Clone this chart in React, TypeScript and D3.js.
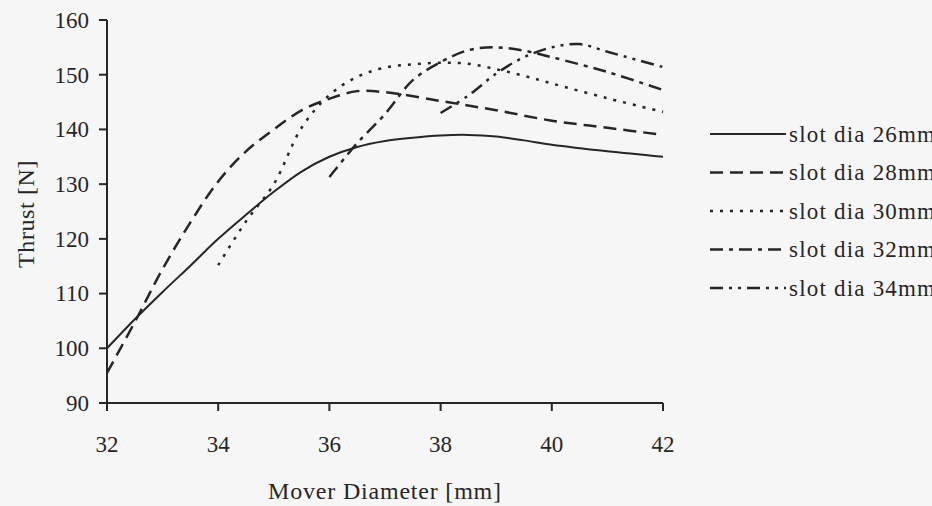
import React from "react";
import * as d3 from "d3";

const xTicks = [32, 34, 36, 38, 40, 42];
const yTicks = [90, 100, 110, 120, 130, 140, 150, 160];

const x26 = [32, 32.5, 33, 33.5, 34, 34.5, 35, 35.5, 36, 36.5, 37, 37.5, 38, 38.5, 39, 39.5, 40, 41, 42];
const y26 = [100, 105.3, 110.3, 115.1, 120, 124.4, 128.6, 132.3, 135, 136.8, 137.9, 138.5, 138.9, 139, 138.7, 138, 137.2, 136, 135];

const x28 = [32, 32.5, 33, 33.5, 34, 34.5, 35, 35.5, 36, 36.5, 37, 38, 39, 40, 41, 42];
const y28 = [95.5, 104.8, 114.5, 123, 130.5, 136, 140, 143.5, 145.6, 147, 146.8, 145.2, 143.5, 141.6, 140.3, 139];

const x30 = [34, 34.5, 35, 35.5, 36, 36.5, 37, 37.5, 38, 38.5, 39, 39.5, 40, 41, 42];
const y30 = [115.2, 123.2, 130, 140.3, 146.3, 149.6, 151.3, 151.9, 152.2, 152, 151, 149.8, 148.4, 145.7, 143.2];

const x32 = [36, 36.5, 37, 37.5, 38, 38.5, 39, 39.5, 40, 41, 42];
const y32 = [131.3, 137.5, 142.8, 149, 152.3, 154.5, 155, 154.4, 153.2, 150.5, 147.2];

const x34 = [38, 38.5, 39, 39.5, 40, 40.5, 41, 42];
const y34 = [143, 146.2, 150.2, 153.2, 155, 155.6, 154.2, 151.4];

const seriesNames = ["slot dia 26mm", "slot dia 28mm", "slot dia 30mm", "slot dia 32mm", "slot dia 34mm"];
const seriesX = [x26, x28, x30, x32, x34];
const seriesY = [y26, y28, y30, y32, y34];
const dashes = ["none", "13,7", "3,7", "13,6,4,6", "13,6,3,6,3,6"];
const widths = [2, 2.5, 2.5, 2.5, 2.5];

const W = 932;
const H = 506;
const FONT = "'Liberation Serif', 'Times New Roman', serif";
const INK = "#262626";

export default function App() {
  const x = d3.scaleLinear().domain([32, 42]).range([107, 663]);
  const y = d3.scaleLinear().domain([90, 160]).range([403, 20]);
  const line = d3
    .line<[number, number]>()
    .x((d) => x(d[0]))
    .y((d) => y(d[1]))
    .curve(d3.curveCatmullRom.alpha(0.5));

  return (
    <svg
      width={W}
      height={H}
      style={{ position: "fixed", left: 0, top: 0, display: "block" }}
      fontFamily={FONT}
    >
      <rect x={0} y={0} width={W} height={H} fill="#f6f6f6" />
      {seriesX.map((xs, i) => (
        <path
          key={"s" + i}
          d={line(xs.map((v, j) => [v, seriesY[i][j]] as [number, number])) || ""}
          fill="none"
          stroke={INK}
          strokeWidth={widths[i]}
          strokeDasharray={dashes[i]}
          strokeLinecap="butt"
        />
      ))}
      <line x1={x(32)} x2={x(42)} y1={y(90)} y2={y(90)} stroke={INK} strokeWidth={2} />
      <line x1={x(32)} x2={x(32)} y1={y(90)} y2={y(160)} stroke={INK} strokeWidth={2} />
      {yTicks.map((t) => (
        <g key={"y" + t}>
          <line x1={x(32) - 8} x2={x(32)} y1={y(t)} y2={y(t)} stroke={INK} strokeWidth={2} />
          <text x={89} y={y(t)} dy="0.34em" textAnchor="end" fontSize={23} fill={INK}>
            {t}
          </text>
        </g>
      ))}
      {xTicks.map((t) => (
        <g key={"x" + t}>
          <line x1={x(t)} x2={x(t)} y1={y(90)} y2={y(90) + 8} stroke={INK} strokeWidth={2} />
          <text x={x(t)} y={452} textAnchor="middle" fontSize={23} fill={INK}>
            {t}
          </text>
        </g>
      ))}
      <text x={385} y={499} textAnchor="middle" fontSize={24} letterSpacing={0.8} fill={INK}>
        Mover Diameter [mm]
      </text>
      <text
        transform="translate(34,214) rotate(-90)"
        textAnchor="middle"
        fontSize={24}
        letterSpacing={0.6}
        fill={INK}
      >
        Thrust [N]
      </text>
      {seriesNames.map((name, i) => {
        const ly = 134 + i * 38.5;
        return (
          <g key={"l" + i}>
            <line x1={710} x2={786} y1={ly} y2={ly} stroke={INK} strokeWidth={widths[i]} strokeDasharray={dashes[i]} />
            <text x={789} y={ly} dy="0.34em" fontSize={23} letterSpacing={1.2} fill={INK}>
              {name}
            </text>
          </g>
        );
      })}
    </svg>
  );
}
